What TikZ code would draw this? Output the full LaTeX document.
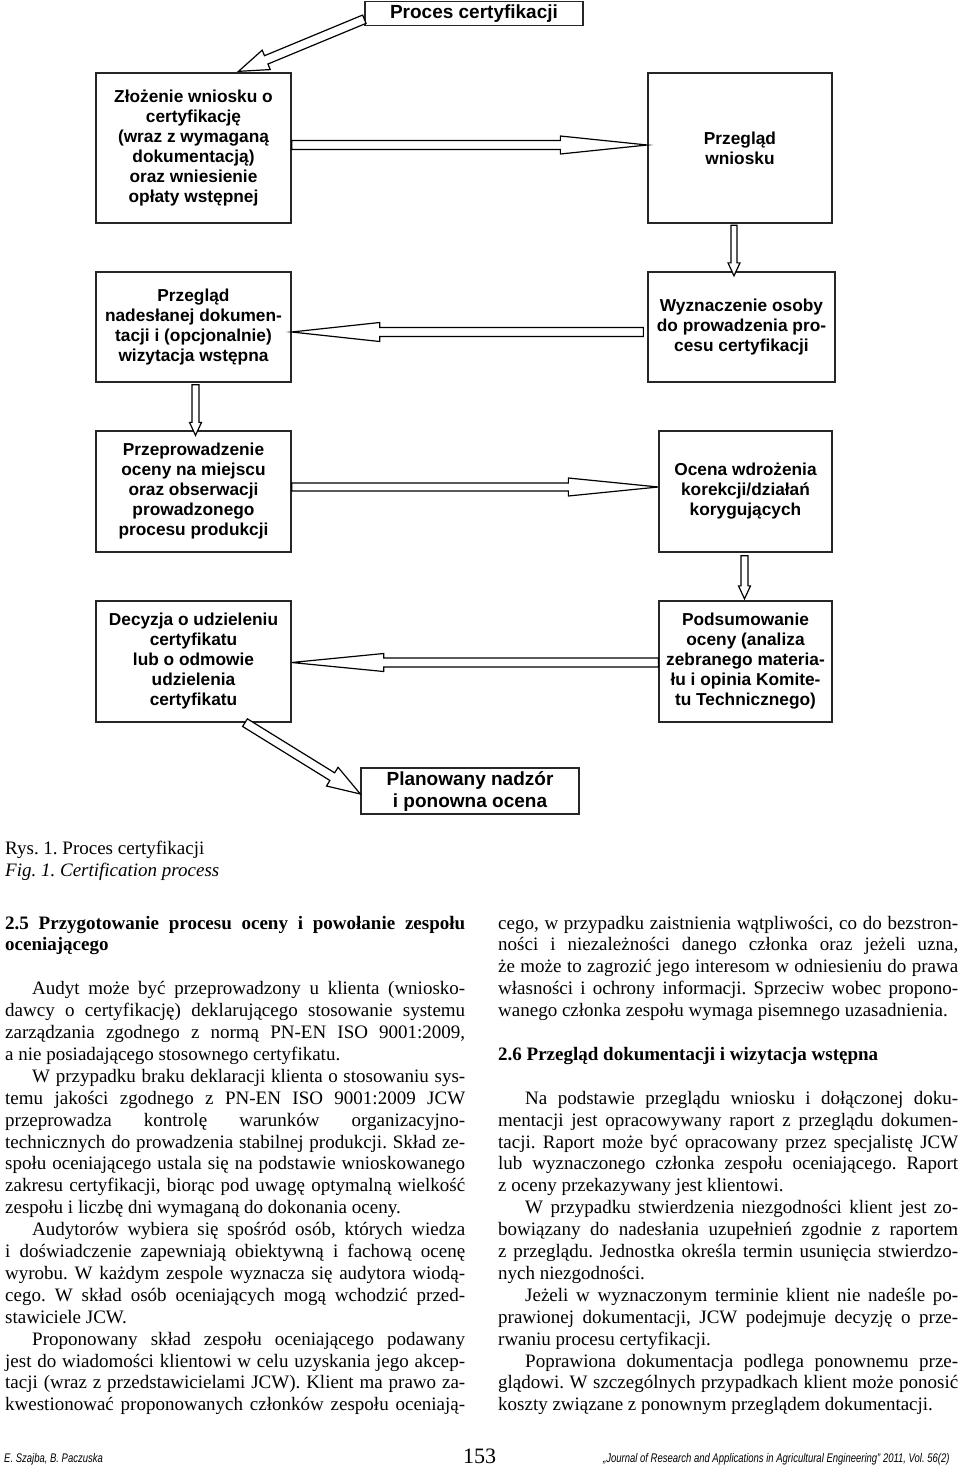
\documentclass[tikz,border=0pt]{standalone}
\usepackage{fontspec}
\setmainfont{Liberation Serif}
\newfontfamily\arialfont{Liberation Sans}
\newfontfamily\narrowsans[FakeStretch=0.76]{Liberation Sans}
\usetikzlibrary{calc}
\frenchspacing
\tikzset{
  box/.style={draw=black!85, line width=1.3pt, inner sep=0pt, align=center,
    font=\arialfont\bfseries\fontsize{17.3}{20}\selectfont},
  bigbox/.style={box, font=\arialfont\bfseries\fontsize{19}{22}\selectfont},
  barr/.style={draw=black, line width=1.2pt, fill=white, line join=miter},
  body/.style={inner sep=0pt, anchor=base west, font=\frenchspacing\fontsize{19}{21.9}\selectfont},
  foot/.style={inner sep=0pt, anchor=base west, font=\narrowsans\itshape\fontsize{12.5}{14}\selectfont},
}
% block arrow: from #1 to #2, shaft half width #3, head half width #4, head length #5
\newcommand\barrow[5]{%
  \filldraw[barr] let \p1=(#1), \p2=(#2),
    \n1={atan2(\y2-\y1,\x2-\x1)}, \n2={veclen(\x2-\x1,\y2-\y1)} in
    ([shift={(\x1,\y1)},rotate=\n1]0,#3) --
    ([shift={(\x1,\y1)},rotate=\n1]\n2-#5,#3) --
    ([shift={(\x1,\y1)},rotate=\n1]\n2-#5,#4) --
    ([shift={(\x1,\y1)},rotate=\n1]\n2,0) --
    ([shift={(\x1,\y1)},rotate=\n1]\n2-#5,-#4) --
    ([shift={(\x1,\y1)},rotate=\n1]\n2-#5,-#3) --
    ([shift={(\x1,\y1)},rotate=\n1]0,-#3) -- cycle;}
% justified line: name, x, line index, width, text
\newcommand\JL[5]{\node[body] (#1) at (#2,{929+21.9*#3}) {\makebox[#4pt][s]{#5}};}
% ragged line: name, x, line index, text
\newcommand\NL[4]{\node[body] (#1) at (#2,{929+21.9*#3}) {#4};}
\begin{document}
\begin{tikzpicture}[x=1pt,y=-1pt]
\fill[white] (0,0) rectangle (960,1468);
\useasboundingbox (0,0) rectangle (960,1468);

% ---------- diagram boxes ----------
\node[bigbox, minimum width=218pt, minimum height=24pt] (T) at (474,13.2) {Proces certyfikacji};
\node[box, minimum width=195pt, minimum height=150pt] (A) at (193.5,148)
  {Złożenie wniosku o\\certyfikację\\(wraz z wymaganą\\dokumentacją)\\oraz wniesienie\\opłaty wstępnej};
\node[box, minimum width=184pt, minimum height=150pt] (B) at (740,148) {Przegląd\\wniosku};
\node[box, minimum width=195pt, minimum height=110pt] (C) at (193.5,327)
  {Przegląd\\nadesłanej dokumen-\\tacji i (opcjonalnie)\\wizytacja wstępna};
\node[box, minimum width=187pt, minimum height=110pt] (D) at (741.5,327)
  {Wyznaczenie osoby\\do prowadzenia pro-\\cesu certyfikacji};
\node[box, minimum width=195pt, minimum height=121pt] (E) at (193.5,491.5)
  {Przeprowadzenie\\oceny na miejscu\\oraz obserwacji\\prowadzonego\\procesu produkcji};
\node[box, minimum width=173pt, minimum height=121pt] (F) at (745.5,491.5)
  {Ocena wdrożenia\\korekcji/działań\\korygujących};
\node[box, minimum width=195pt, minimum height=121pt] (G) at (193.5,661.5)
  {Decyzja o udzieleniu\\certyfikatu\\lub o odmowie\\udzielenia\\certyfikatu};
\node[box, minimum width=173pt, minimum height=121pt] (H) at (745.5,661.5)
  {Podsumowanie\\oceny (analiza\\zebranego materia-\\łu i opinia Komite-\\tu Technicznego)};
\node[bigbox, minimum width=218pt, minimum height=46pt] (I) at (470,791)
  {Planowany nadzór\\i ponowna ocena};

% ---------- block arrows ----------
\barrow{[yshift=-6pt]T.west}{[xshift=45pt,yshift=1pt]A.north}{4.5}{10.5}{30}
\barrow{[yshift=3pt]A.east}{[yshift=3pt]B.west}{4.5}{9}{87}
\barrow{[xshift=-6pt,yshift=-1.5pt]B.south}{[xshift=-7.5pt,yshift=-4.5pt]D.north}{3}{6}{13}
\barrow{[xshift=-4pt,yshift=-5pt]D.west}{[yshift=-5pt]C.east}{4.5}{9.5}{88}
\barrow{[xshift=2pt,yshift=-2pt]C.south}{[xshift=2pt,yshift=-5pt]E.north}{3.5}{6}{13}
\barrow{[yshift=4.5pt]E.east}{[yshift=4.5pt]F.west}{4}{9}{90}
\barrow{[xshift=-1pt,yshift=-3pt]F.south}{[xshift=-1pt,yshift=1.5pt]H.north}{3.5}{6}{13}
\barrow{[yshift=-1pt]H.west}{[yshift=-1pt]G.east}{4.5}{9}{92}
\barrow{[xshift=51.5pt,yshift=0pt]G.south}{[yshift=-3pt]I.west}{4.5}{11}{33}

% ---------- caption ----------
\node[body] (cap1) at (5,854) {Rys. 1. Proces certyfikacji};
\node[body] (cap2) at (5,876) {\itshape Fig. 1. Certification process};

% ---------- left column ----------
\JL{h1}{5}{0}{460}{\bfseries 2.5 Przygotowanie procesu oceny i powołanie zespołu}
\NL{h2}{5}{1}{\bfseries oceniającego}
\JL{l3}{32}{3}{433}{Audyt może być przeprowadzony u klienta (wniosko-}
\JL{l4}{5}{4}{460}{dawcy o certyfikację) deklarującego stosowanie systemu}
\JL{l5}{5}{5}{460}{zarządzania zgodnego z normą PN-EN ISO 9001:2009,}
\NL{l6}{5}{6}{a nie posiadającego stosownego certyfikatu.}
\JL{l7}{32}{7}{433}{W przypadku braku deklaracji klienta o stosowaniu sys-}
\JL{l8}{5}{8}{460}{temu jakości zgodnego z PN-EN ISO 9001:2009 JCW}
\JL{l9}{5}{9}{460}{przeprowadza kontrolę warunków organizacyjno-}
\JL{l10}{5}{10}{460}{technicznych do prowadzenia stabilnej produkcji. Skład ze-}
\JL{l11}{5}{11}{460}{społu oceniającego ustala się na podstawie wnioskowanego}
\JL{l12}{5}{12}{460}{zakresu certyfikacji, biorąc pod uwagę optymalną wielkość}
\NL{l13}{5}{13}{zespołu i liczbę dni wymaganą do dokonania oceny.}
\JL{l14}{32}{14}{433}{Audytorów wybiera się spośród osób, których wiedza}
\JL{l15}{5}{15}{460}{i doświadczenie zapewniają obiektywną i fachową ocenę}
\JL{l16}{5}{16}{460}{wyrobu. W każdym zespole wyznacza się audytora wiodą-}
\JL{l17}{5}{17}{460}{cego. W skład osób oceniających mogą wchodzić przed-}
\NL{l18}{5}{18}{stawiciele JCW.}
\JL{l19}{32}{19}{433}{Proponowany skład zespołu oceniającego podawany}
\JL{l20}{5}{20}{460}{jest do wiadomości klientowi w celu uzyskania jego akcep-}
\JL{l21}{5}{21}{460}{tacji (wraz z przedstawicielami JCW). Klient ma prawo za-}
\JL{l22}{5}{22}{460}{kwestionować proponowanych członków zespołu oceniają-}

% ---------- right column ----------
\JL{r0}{498}{0}{460}{cego, w przypadku zaistnienia wątpliwości, co do bezstron-}
\JL{r1}{498}{1}{460}{ności i niezależności danego członka oraz jeżeli uzna,}
\JL{r2}{498}{2}{460}{że może to zagrozić jego interesom w odniesieniu do prawa}
\JL{r3}{498}{3}{460}{własności i ochrony informacji. Sprzeciw wobec propono-}
\NL{r4}{498}{4}{wanego członka zespołu wymaga pisemnego uzasadnienia.}
\NL{h3}{498}{6}{\bfseries 2.6 Przegląd dokumentacji i wizytacja wstępna}
\JL{r8}{525}{8}{433}{Na podstawie przeglądu wniosku i dołączonej doku-}
\JL{r9}{498}{9}{460}{mentacji jest opracowywany raport z przeglądu dokumen-}
\JL{r10}{498}{10}{460}{tacji. Raport może być opracowany przez specjalistę JCW}
\JL{r11}{498}{11}{460}{lub wyznaczonego członka zespołu oceniającego. Raport}
\NL{r12}{498}{12}{z oceny przekazywany jest klientowi.}
\JL{r13}{525}{13}{433}{W przypadku stwierdzenia niezgodności klient jest zo-}
\JL{r14}{498}{14}{460}{bowiązany do nadesłania uzupełnień zgodnie z raportem}
\JL{r15}{498}{15}{460}{z przeglądu. Jednostka określa termin usunięcia stwierdzo-}
\NL{r16}{498}{16}{nych niezgodności.}
\JL{r17}{525}{17}{433}{Jeżeli w wyznaczonym terminie klient nie nadeśle po-}
\JL{r18}{498}{18}{460}{prawionej dokumentacji, JCW podejmuje decyzję o prze-}
\NL{r19}{498}{19}{rwaniu procesu certyfikacji.}
\JL{r20}{525}{20}{433}{Poprawiona dokumentacja podlega ponownemu prze-}
\JL{r21}{498}{21}{460}{glądowi. W szczególnych przypadkach klient może ponosić}
\NL{r22}{498}{22}{koszty związane z ponownym przeglądem dokumentacji.}

% ---------- footer ----------
\node[foot] (f1) at (4,1462) {E. Szajba, B. Paczuska};
\node[body, font=\fontsize{22}{24}\selectfont] (f2) at (463,1463) {153};
\node[foot] (f3) at (603,1462) {„Journal of Research and Applications in Agricultural Engineering” 2011, Vol. 56(2)};
\end{tikzpicture}
\end{document}
